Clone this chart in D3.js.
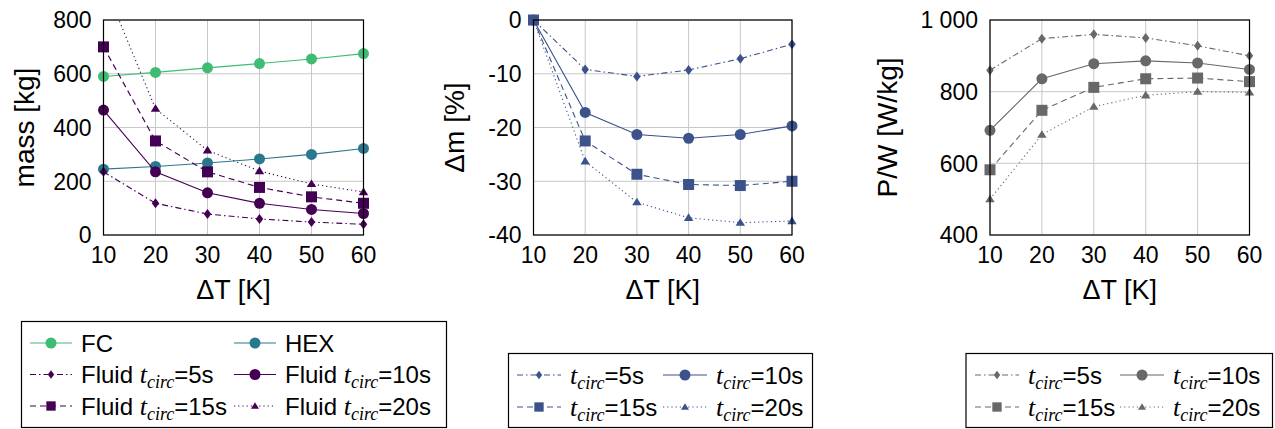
<!DOCTYPE html>
<html>
<head>
<meta charset="utf-8">
<script src="https://cdn.jsdelivr.net/npm/d3@7"></script>
<style>
  body { margin: 0; background: #fff; }
  svg { display: block; }
  text { font-family: "Liberation Sans", Arial, sans-serif; fill: #000; }
</style>
</head>
<body>
<svg id="chart" width="1275" height="429"></svg>
<script>
// x values shared by all three panels
var dT = [10, 20, 30, 40, 50, 60];

// panel 1: mass [kg]
var massFC = [590, 605, 622, 638, 655, 675];
var massHEX = [245, 255, 268, 283, 300, 322];
var massFluid5 = [235, 118, 78, 60, 48, 40];
var massFluid10 = [465, 235, 157, 118, 95, 80];
var massFluid15 = [700, 350, 235, 177, 142, 118];
var massFluid20 = [940, 470, 315, 238, 190, 160];

// panel 2: delta m [%]
var dm5 = [0, -9.2, -10.5, -9.3, -7.2, -4.5];
var dm10 = [0, -17.2, -21.3, -22.0, -21.3, -19.7];
var dm15 = [0, -22.5, -28.7, -30.6, -30.8, -30.0];
var dm20 = [0, -26.3, -33.9, -36.8, -37.7, -37.4];

// panel 3: power to weight [W/kg]
var pw5 = [860, 948, 960, 950, 928, 900];
var pw10 = [692, 836, 878, 886, 880, 862];
var pw15 = [582, 748, 812, 836, 838, 828];
var pw20 = [500, 680, 758, 790, 800, 798];

var xTicks = [10, 20, 30, 40, 50, 60];
var massTicks = [0, 200, 400, 600, 800];
var dmTicks = [0, -10, -20, -30, -40];
var pwTicks = [400, 600, 800, 1000];

var GREEN = "#3fbc73", TEAL = "#2a788e", PURPLE = "#440154", BLUE = "#3b528b", GRAY = "#686868";

var dashes = {
  dashdot: "6,3,1.5,3",
  solid: null,
  dashed: "6,4",
  dotted: "1.2,3"
};

// marker paths centred on 0,0
var markers = {
  circle: function(s) { var r = s; return "M" + r + ",0A" + r + "," + r + " 0 1,1 " + (-r) + ",0A" + r + "," + r + " 0 1,1 " + r + ",0Z"; },
  square: function(s) { return "M" + (-s) + "," + (-s) + "H" + s + "V" + s + "H" + (-s) + "Z"; },
  diamond: function(s) { return "M0," + (-s) + "L" + (s * 0.75) + ",0L0," + s + "L" + (-s * 0.75) + ",0Z"; },
  triangle: function(s) { return "M0," + (-s) + "L" + (s * 1.05) + "," + (s * 0.7) + "L" + (-s * 1.05) + "," + (s * 0.7) + "Z"; }
};
var markerSize = { circle: 5.5, square: 5.5, diamond: 5, triangle: 4.5 };

var svg = d3.select("#chart");

function drawPanel(cfg) {
  var x = d3.scaleLinear().domain([10, 60]).range([cfg.left, cfg.right]);
  var y = d3.scaleLinear().domain(cfg.yDomain).range([cfg.bottom, cfg.top]);
  var g = svg.append("g");

  var clipId = "clip" + cfg.id;
  g.append("clipPath").attr("id", clipId)
    .append("rect")
    .attr("x", cfg.left).attr("y", cfg.top)
    .attr("width", cfg.right - cfg.left).attr("height", cfg.bottom - cfg.top);

  // grid
  g.append("g").selectAll("line").data(xTicks).enter().append("line")
    .attr("x1", d => x(d)).attr("x2", d => x(d))
    .attr("y1", cfg.top).attr("y2", cfg.bottom)
    .attr("stroke", "#c8c8c8").attr("stroke-width", 1);
  g.append("g").selectAll("line").data(cfg.yTicks).enter().append("line")
    .attr("y1", d => y(d)).attr("y2", d => y(d))
    .attr("x1", cfg.left).attr("x2", cfg.right)
    .attr("stroke", "#c8c8c8").attr("stroke-width", 1);

  // tick labels
  g.append("g").selectAll("text").data(xTicks).enter().append("text")
    .attr("x", d => x(d)).attr("y", cfg.bottom + 28)
    .attr("text-anchor", "middle")
    .style("font-size", "23px")
    .text(d => d);
  g.append("g").selectAll("text").data(cfg.yTicks).enter().append("text")
    .attr("x", cfg.left - 12).attr("y", d => y(d))
    .attr("dy", "0.36em")
    .attr("text-anchor", "end")
    .style("font-size", "23px")
    .text(cfg.yFormat);

  // axis labels
  g.append("text")
    .attr("x", (cfg.left + cfg.right) / 2).attr("y", cfg.bottom + 64)
    .attr("text-anchor", "middle")
    .style("font-size", "27px")
    .text("\u0394T [K]");
  g.append("text")
    .attr("transform", "translate(" + cfg.yLabelX + "," + ((cfg.top + cfg.bottom) / 2) + ") rotate(-90)")
    .attr("text-anchor", "middle")
    .style("font-size", "28px")
    .text(cfg.yLabel);

  // series
  var line = d3.line().x(d => x(d[0])).y(d => y(d[1]));
  cfg.series.forEach(function(s) {
    var pts = dT.map((d, i) => [d, s.values[i]]);
    g.append("path")
      .attr("d", line(pts))
      .attr("clip-path", "url(#" + clipId + ")")
      .attr("fill", "none")
      .attr("stroke", s.color)
      .attr("stroke-width", 1.1)
      .attr("stroke-dasharray", dashes[s.dash]);
    g.append("g").selectAll("path")
      .data(pts.filter(p => p[1] <= cfg.yDomain[1] && p[1] >= cfg.yDomain[0]))
      .enter().append("path")
      .attr("transform", p => "translate(" + x(p[0]) + "," + y(p[1]) + ")")
      .attr("d", markers[s.marker](markerSize[s.marker]))
      .attr("fill", s.color);
  });

  // frame
  g.append("rect")
    .attr("x", cfg.left).attr("y", cfg.top)
    .attr("width", cfg.right - cfg.left).attr("height", cfg.bottom - cfg.top)
    .attr("fill", "none").attr("stroke", "#000").attr("stroke-width", 1.2);
}

function addLabel(t, item) {
  if (item.prefix) t.append("tspan").text(item.prefix + " ");
  if (item.tc) {
    t.append("tspan").style("font-family", "'Liberation Serif', serif").style("font-style", "italic")
      .style("font-size", "26px").text("t");
    t.append("tspan").style("font-family", "'Liberation Serif', serif").style("font-style", "italic")
      .style("font-size", "18px").attr("dy", 5).text("circ");
    t.append("tspan").attr("dy", -5).text("=" + item.tc);
  } else {
    t.append("tspan").text(item.name);
  }
}

function drawLegend(cfg) {
  var g = svg.append("g");
  g.append("rect")
    .attr("x", cfg.x).attr("y", cfg.y).attr("width", cfg.w).attr("height", cfg.h)
    .attr("fill", "#fff").attr("stroke", "#000").attr("stroke-width", 1.2);
  cfg.items.forEach(function(item, i) {
    var col = i % 2, row = Math.floor(i / 2);
    var lx = cfg.cols[col], ly = cfg.rowY[row];
    var it = g.append("g").attr("transform", "translate(" + lx + "," + ly + ")");
    it.append("line")
      .attr("x1", 0).attr("x2", cfg.sample).attr("y1", 0).attr("y2", 0)
      .attr("stroke", item.color).attr("stroke-width", 1.1)
      .attr("stroke-dasharray", dashes[item.dash]);
    it.append("path")
      .attr("transform", "translate(" + (cfg.sample / 2) + ",0)")
      .attr("d", markers[item.marker](markerSize[item.marker] * (item.marker === "circle" ? 1 : 0.85)))
      .attr("fill", item.color);
    var t = it.append("text")
      .attr("x", cfg.sample + 9).attr("y", 0).attr("dy", "0.36em")
      .style("font-size", "24px");
    addLabel(t, item);
  });
}

var fluidSeries = function(vals, color) {
  return [
    { values: vals[0], color: color, dash: "dashdot", marker: "diamond" },
    { values: vals[1], color: color, dash: "solid", marker: "circle" },
    { values: vals[2], color: color, dash: "dashed", marker: "square" },
    { values: vals[3], color: color, dash: "dotted", marker: "triangle" }
  ];
};

drawPanel({
  id: 1, left: 103.5, right: 363.5, top: 20, bottom: 235,
  yDomain: [0, 800], yTicks: massTicks, yFormat: d => d,
  yLabel: "mass [kg]", yLabelX: 34,
  series: [
    { values: massFC, color: GREEN, dash: "solid", marker: "circle" },
    { values: massHEX, color: TEAL, dash: "solid", marker: "circle" }
  ].concat(fluidSeries([massFluid5, massFluid10, massFluid15, massFluid20], PURPLE))
});

drawPanel({
  id: 2, left: 533.5, right: 792, top: 20, bottom: 235,
  yDomain: [-40, 0], yTicks: dmTicks, yFormat: d => d < 0 ? "-" + Math.abs(d) : d,
  yLabel: "\u0394m [%]", yLabelX: 464,
  series: fluidSeries([dm5, dm10, dm15, dm20], BLUE)
});

drawPanel({
  id: 3, left: 990, right: 1249.5, top: 20, bottom: 235,
  yDomain: [400, 1000], yTicks: pwTicks, yFormat: d => d >= 1000 ? "1 000" : d,
  yLabel: "P/W [W/kg]", yLabelX: 897,
  series: fluidSeries([pw5, pw10, pw15, pw20], GRAY)
});

var circLabels = ["5s", "10s", "15s", "20s"];
var circDash = ["dashdot", "solid", "dashed", "dotted"];
var circMarker = ["diamond", "circle", "square", "triangle"];

drawLegend({
  x: 21.5, y: 321.5, w: 425, h: 106, sample: 42,
  cols: [30, 234], rowY: [343, 374.5, 406],
  items: [
    { name: "FC", color: GREEN, dash: "solid", marker: "circle" },
    { name: "HEX", color: TEAL, dash: "solid", marker: "circle" }
  ].concat(circLabels.map((c, i) => ({ prefix: "Fluid", tc: c, color: PURPLE, dash: circDash[i], marker: circMarker[i] })))
});

drawLegend({
  x: 508.5, y: 353.5, w: 304, h: 74, sample: 44,
  cols: [517, 663], rowY: [375, 407],
  items: circLabels.map((c, i) => ({ tc: c, color: BLUE, dash: circDash[i], marker: circMarker[i] }))
});

drawLegend({
  x: 966, y: 353.5, w: 306.5, h: 74, sample: 44,
  cols: [975, 1120], rowY: [375, 407],
  items: circLabels.map((c, i) => ({ tc: c, color: GRAY, dash: circDash[i], marker: circMarker[i] }))
});
</script>
</body>
</html>
